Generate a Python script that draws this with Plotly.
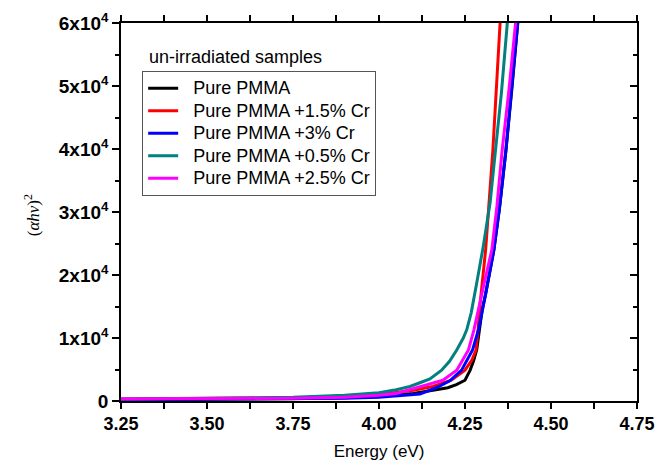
# Imports

import plotly.graph_objs as go

# Data

pure_e = [3.25, 3.50, 3.75, 3.90, 4.00, 4.10, 4.15, 4.20, 4.225, 4.25, 4.265, 4.275, 4.284, 4.291, 4.30, 4.31, 4.334, 4.35, 4.369, 4.387, 4.404, 4.41]
pure_v = [200, 250, 350, 500, 700, 1200, 1600, 2100, 2600, 3300, 4900, 6400, 8100, 11300, 14500, 17000, 24000, 30500, 39800, 50000, 60000, 64000]

cr15_e = [3.25, 3.50, 3.75, 3.90, 4.00, 4.10, 4.157, 4.21, 4.25, 4.27, 4.282, 4.288, 4.294, 4.31, 4.331, 4.352, 4.36]
cr15_v = [300, 400, 500, 700, 1000, 1700, 2300, 3300, 4900, 6500, 8100, 11300, 15500, 24000, 39800, 60000, 68000]

cr3_e = [3.25, 3.50, 3.75, 3.90, 4.00, 4.119, 4.166, 4.206, 4.24, 4.272, 4.29, 4.30, 4.31, 4.334, 4.35, 4.369, 4.387, 4.404, 4.41]
cr3_v = [250, 300, 350, 450, 600, 1100, 2100, 3200, 4900, 8100, 11500, 14000, 17000, 24000, 30500, 39800, 50000, 60000, 64000]

cr05_e = [3.25, 3.50, 3.75, 3.90, 4.00, 4.05, 4.09, 4.119, 4.148, 4.182, 4.205, 4.226, 4.245, 4.255, 4.268, 4.285, 4.303, 4.323, 4.339, 4.356, 4.373, 4.38]
cr05_v = [300, 400, 600, 900, 1300, 1800, 2300, 2900, 3500, 4900, 6300, 8100, 10000, 11300, 14000, 19000, 24500, 31500, 39800, 49000, 60000, 64000]

cr25_e = [3.25, 3.50, 3.75, 3.90, 4.00, 4.05, 4.12, 4.186, 4.226, 4.26, 4.276, 4.289, 4.305, 4.328, 4.343, 4.358, 4.378, 4.397, 4.405]
cr25_v = [300, 350, 450, 600, 900, 1200, 2300, 3300, 4900, 8100, 11300, 14800, 18500, 24000, 31000, 39800, 49500, 60000, 65000]

series_names = ["Pure PMMA", "Pure PMMA +1.5% Cr", "Pure PMMA +3% Cr", "Pure PMMA +0.5% Cr", "Pure PMMA +2.5% Cr"]
series_colors = ["#000000", "#FF0000", "#0000FF", "#008080", "#FF00FF"]

x_ticks = [3.25, 3.50, 3.75, 4.00, 4.25, 4.50, 4.75]
x_ticktext = ["3.25", "3.50", "3.75", "4.00", "4.25", "4.50", "4.75"]
y_ticks = [0, 10000, 20000, 30000, 40000, 50000, 60000]
y_ticktext = ["0"] + ["%dx10<sup>4</sup>" % i for i in range(1, 7)]

font_family = "Liberation Sans, Arial, sans-serif"
x_minor = [3.375 + 0.25 * i for i in range(6)]
y_minor = [5000 + 10000 * i for i in range(6)]

fig = go.Figure()

# legend text is drawn at 18px while the row spacing follows the 15px legend font
for e, v, name, color in zip([pure_e, cr15_e, cr3_e, cr05_e, cr25_e],
                             [pure_v, cr15_v, cr3_v, cr05_v, cr25_v],
                             series_names, series_colors):
    fig.add_trace(go.Scatter(x = e, y = v, mode = "lines",
                             name = "<span style='font-size:18px'>&nbsp;&nbsp;%s</span>" % name,
                             line = dict(color = color, width = 3)))

# Invisible trace so the right-hand axis (inward ticks) gets drawn
fig.add_trace(go.Scatter(x = [3.25], y = [0], yaxis = "y2", mode = "lines",
                         showlegend = False, hoverinfo = "skip", line = dict(width = 0)))

fig.update_layout(width = 659, height = 466,
                  margin = dict(l = 121, r = 22, t = 23, b = 65),
                  plot_bgcolor = "white", paper_bgcolor = "white",
                  font = dict(family = font_family, color = "black"),
                  showlegend = True,
                  legend = dict(x = 0.041, y = 0.873, xanchor = "left", yanchor = "top",
                                bordercolor = "#555555", borderwidth = 1, bgcolor = "rgba(255,255,255,0)",
                                font = dict(family = font_family, size = 15, color = "black"),
                                tracegroupgap = 0))

fig.update_layout(
    xaxis = dict(range = [3.25, 4.75], tickvals = x_ticks, ticktext = x_ticktext, automargin = False,
                 ticks = "outside", ticklen = 6, tickwidth = 1.5, tickcolor = "black",
                 showline = True, linecolor = "black", linewidth = 1.5, mirror = "allticks",
                 showgrid = False, zeroline = False,
                 tickfont = dict(family = font_family, size = 18, weight = "bold"),
                 minor = dict(tickvals = x_minor, ticks = "outside", ticklen = 4, tickwidth = 1.5, tickcolor = "black"),
                 title = dict(text = "Energy (eV)", font = dict(family = font_family, size = 17), standoff = 12)),
    yaxis = dict(range = [0, 60000], tickvals = y_ticks, ticktext = y_ticktext, automargin = False,
                 ticks = "outside", ticklen = 7, tickwidth = 1.5, tickcolor = "black",
                 showline = True, linecolor = "black", linewidth = 1.5,
                 showgrid = False, zeroline = False,
                 tickfont = dict(family = font_family, size = 19, weight = "bold"),
                 minor = dict(tickvals = y_minor, ticks = "outside", ticklen = 4, tickwidth = 1.5, tickcolor = "black")),
    yaxis2 = dict(overlaying = "y", side = "right", anchor = "x", range = [0, 60000], automargin = False,
                  tickvals = y_ticks, showticklabels = False,
                  ticks = "inside", ticklen = 7, tickwidth = 1.5, tickcolor = "black",
                  showline = True, linecolor = "black", linewidth = 1.5,
                  showgrid = False, zeroline = False,
                  minor = dict(tickvals = y_minor, ticks = "inside", ticklen = 4, tickwidth = 1.5, tickcolor = "black")))

# Y title and in-plot label
fig.add_annotation(text = "(<i>\u03b1h\u03bd</i>)<sup>2</sup>", textangle = -90,
                   x = -0.172, y = 0.492, xref = "paper", yref = "paper", xanchor = "center", yanchor = "middle",
                   showarrow = False,
                   font = dict(family = "Liberation Serif, Times New Roman, serif", size = 17))
fig.add_annotation(text = "un-irradiated samples", x = 0.051, y = 0.91, xref = "paper", yref = "paper",
                   xanchor = "left", yanchor = "middle", showarrow = False,
                   font = dict(family = font_family, size = 18))

# Remove the default page margin so the figure sits at the window's corner
fig.write_html("out.html", config = {"displayModeBar": False},
               post_script = "document.body.style.margin = '0px';")
